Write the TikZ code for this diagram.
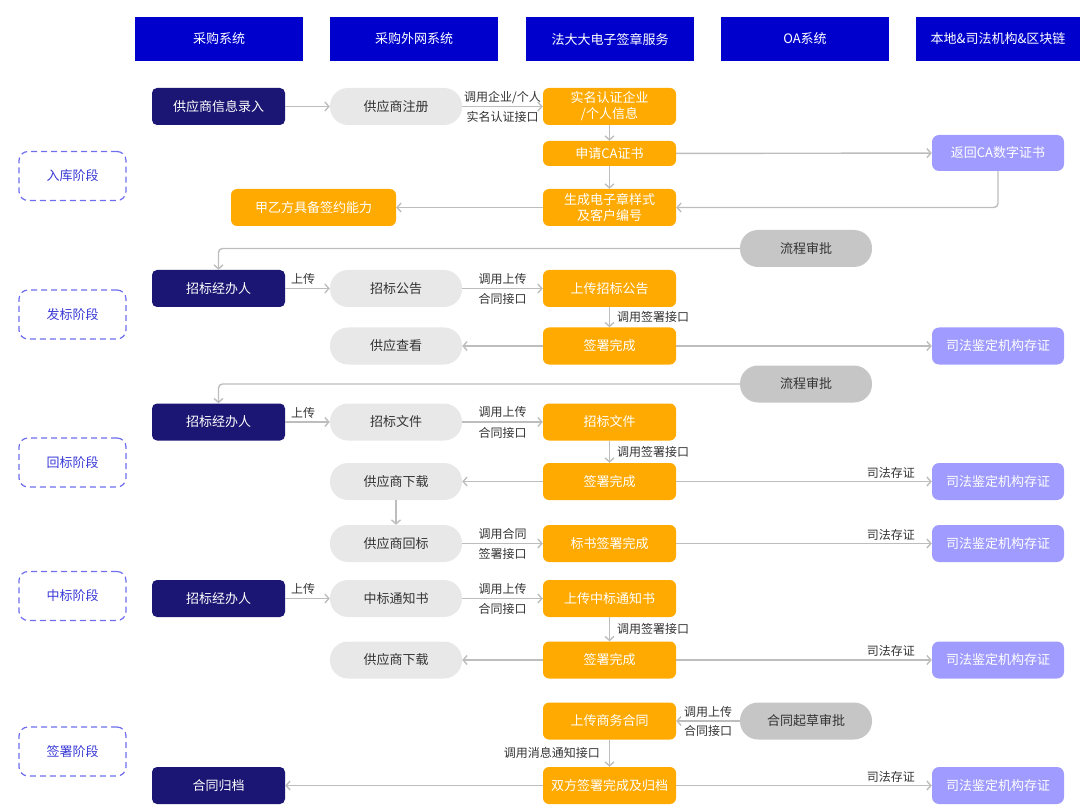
\documentclass[tikz,border=0pt]{standalone}
\usepackage{fontspec}
\setmainfont{Noto Sans CJK SC}
\usetikzlibrary{arrows.meta}
\definecolor{flowhead}{HTML}{0000CC}
\definecolor{flownavy}{HTML}{1B1673}
\definecolor{floworange}{HTML}{FFAA00}
\definecolor{flowgray}{HTML}{E8E8E8}
\definecolor{flowgraydark}{HTML}{C6C6C6}
\definecolor{flowlavender}{HTML}{A09CFF}
\definecolor{flowphase}{HTML}{6E6EEE}
\definecolor{flowphasetext}{HTML}{3A3AD6}
\definecolor{flowline}{HTML}{BDBDBD}
\definecolor{flowtext}{HTML}{333333}

\begin{document}
\begin{tikzpicture}[
  x=1pt,
  y=-1pt,
  every node/.style={font=\fontsize{13}{16}\selectfont, inner sep=0pt, align=center},
  headbox/.style={fill=flowhead, text=white, minimum width=168pt, minimum height=44pt},
  navybox/.style={fill=flownavy, text=white, rounded corners=5pt,
    minimum width=133pt, minimum height=37pt},
  orangebox/.style={fill=floworange, text=white, rounded corners=6pt,
    minimum width=133pt, minimum height=37pt},
  graypill/.style={fill=flowgray, text=flowtext, rounded corners=18pt,
    minimum width=132pt, minimum height=37pt},
  darkpill/.style={graypill, fill=flowgraydark},
  lavbox/.style={fill=flowlavender, text=white, rounded corners=7pt,
    minimum width=132pt, minimum height=37pt},
  phasebox/.style={draw=flowphase, text=flowphasetext, line width=1.2pt,
    dash pattern=on 6pt off 4pt, rounded corners=9pt,
    minimum width=107pt, minimum height=49pt},
  conn/.style={draw=flowline, line width=1.4pt, rounded corners=4pt,
    -{Straight Barb[length=4pt, width=9pt]}},
  lbl/.style={font=\fontsize{12}{14}\selectfont, text=flowtext}
]
  \useasboundingbox (0,0) rectangle (1080,805);

  % column heads
  \node[headbox] (hbuy) at (219,39) {采购系统};
  \node[headbox] (hext) at (414,39) {采购外网系统};
  \node[headbox] (hfdd) at (610,39) {法大大电子签章服务};
  \node[headbox] (hoa)  at (805,39) {OA系统};
  \node[headbox, minimum width=164pt] (hjud) at (998,39) {本地\&司法机构\&区块链};

  % phases
  \node[phasebox] (phstock)  at (72.5,176) {入库阶段};
  \node[phasebox] (phissue)  at (72.5,314.5) {发标阶段};
  \node[phasebox] (phreturn) at (72.5,462.5) {回标阶段};
  \node[phasebox] (phwin)    at (72.5,596) {中标阶段};
  \node[phasebox] (phsign)   at (72.5,751.5) {签署阶段};

  % stocking
  \node[navybox] (entry) at (218.5,106.5) {供应商信息录入};
  \node[graypill] (register) at (396,106.5) {供应商注册};
  \node[orangebox] (verify) at (609.5,106.5) {实名认证企业\\/个人信息};
  \node[orangebox, minimum height=25pt] (applyca) at (609.5,153.5) {申请CA证书};
  \node[lavbox, minimum height=36pt] (returnca) at (998,153) {返回CA数字证书};
  \node[orangebox] (genseal) at (609.5,207.5) {生成电子章样式\\及客户编号};
  \node[orangebox, minimum width=165pt] (capable) at (313.5,207.5) {甲乙方具备签约能力};

  \draw[conn] (entry) -- (register);
  \draw[conn] (register) -- node[lbl, above=2.5pt] {调用企业/个人}
    node[lbl, below=4.5pt] {实名认证接口} (verify);
  \draw[conn] (verify) -- (applyca);
  \draw[conn] (applyca) -- (returnca);
  \draw[conn] (applyca) -- (genseal);
  \draw[conn] (returnca.south) |- (genseal.east);
  \draw[conn] (genseal) -- (capable);

  % issuing
  \node[darkpill] (approveA) at (806,248.5) {流程审批};
  \node[navybox] (agentA) at (218.5,288.5) {招标经办人};
  \node[graypill] (noticeA) at (396,288.5) {招标公告};
  \node[orangebox] (uploadA) at (609.5,288.5) {上传招标公告};
  \node[graypill] (viewA) at (396,346) {供应查看};
  \node[orangebox] (signedA) at (609.5,346) {签署完成};
  \node[lavbox] (judicialA) at (998,346) {司法鉴定机构存证};

  \draw[conn] (approveA.west) -| (agentA.north);
  \draw[conn] (agentA) -- node[lbl, above=3pt, pos=0.4] {上传} (noticeA);
  \draw[conn] (noticeA) -- node[lbl, above=3.5pt] {调用上传}
    node[lbl, below=4.5pt] {合同接口} (uploadA);
  \draw[conn] (uploadA) -- node[lbl, right=7pt] {调用签署接口} (signedA);
  \draw[conn] (signedA) -- (viewA);
  \draw[conn] (signedA) -- (judicialA);

  % returning bids
  \node[darkpill] (approveB) at (806,384) {流程审批};
  \node[navybox] (agentB) at (218.5,422) {招标经办人};
  \node[graypill] (bidfile) at (396,422) {招标文件};
  \node[orangebox] (bidsign) at (609.5,422) {招标文件};
  \node[graypill] (downloadB) at (396,481.5) {供应商下载};
  \node[orangebox] (signedB) at (609.5,481.5) {签署完成};
  \node[lavbox] (judicialB) at (998,481.5) {司法鉴定机构存证};
  \node[graypill] (rebid) at (396,543.5) {供应商回标};
  \node[orangebox] (tendersigned) at (609.5,543.5) {标书签署完成};
  \node[lavbox] (judicialC) at (998,543.5) {司法鉴定机构存证};

  \draw[conn] (approveB.west) -| (agentB.north);
  \draw[conn] (agentB) -- node[lbl, above=3pt, pos=0.4] {上传} (bidfile);
  \draw[conn] (bidfile) -- node[lbl, above=3.5pt] {调用上传}
    node[lbl, below=4.5pt] {合同接口} (bidsign);
  \draw[conn] (bidsign) -- node[lbl, right=7pt] {调用签署接口} (signedB);
  \draw[conn] (signedB) -- (downloadB);
  \draw[conn] (signedB) -- node[lbl, above=2.5pt, pos=0.84] {司法存证} (judicialB);
  \draw[conn] (downloadB) -- (rebid);
  \draw[conn] (rebid) -- node[lbl, above=3.5pt] {调用合同}
    node[lbl, below=4.5pt] {签署接口} (tendersigned);
  \draw[conn] (tendersigned) -- node[lbl, above=2.5pt, pos=0.84] {司法存证} (judicialC);

  % winning bid
  \node[navybox] (agentD) at (218.5,598.5) {招标经办人};
  \node[graypill] (winnotice) at (396,598.5) {中标通知书};
  \node[orangebox] (uploadwin) at (609.5,598.5) {上传中标通知书};
  \node[graypill] (downloadD) at (396,660) {供应商下载};
  \node[orangebox] (signedD) at (609.5,660) {签署完成};
  \node[lavbox] (judicialD) at (998,660) {司法鉴定机构存证};

  \draw[conn] (agentD) -- node[lbl, above=3pt, pos=0.4] {上传} (winnotice);
  \draw[conn] (winnotice) -- node[lbl, above=3.5pt] {调用上传}
    node[lbl, below=4.5pt] {合同接口} (uploadwin);
  \draw[conn] (uploadwin) -- node[lbl, right=7pt] {调用签署接口} (signedD);
  \draw[conn] (signedD) -- (downloadD);
  \draw[conn] (signedD) -- node[lbl, above=2.5pt, pos=0.84] {司法存证} (judicialD);

  % signing
  \node[orangebox] (uploadcontract) at (609.5,721) {上传商务合同};
  \node[darkpill] (draft) at (806,721) {合同起草审批};
  \node[orangebox] (bothsigned) at (609.5,785.5) {双方签署完成及归档};
  \node[navybox] (archive) at (218.5,785.5) {合同归档};
  \node[lavbox] (judicialE) at (998,785.5) {司法鉴定机构存证};

  \draw[conn] (draft) -- node[lbl, above=2.5pt] {调用上传}
    node[lbl, below=3.5pt] {合同接口} (uploadcontract);
  \draw[conn] (uploadcontract) -- node[lbl, left=9pt] {调用消息通知接口} (bothsigned);
  \draw[conn] (bothsigned) -- (archive);
  \draw[conn] (bothsigned) -- node[lbl, above=2.5pt, pos=0.84] {司法存证} (judicialE);
\end{tikzpicture}
\end{document}
